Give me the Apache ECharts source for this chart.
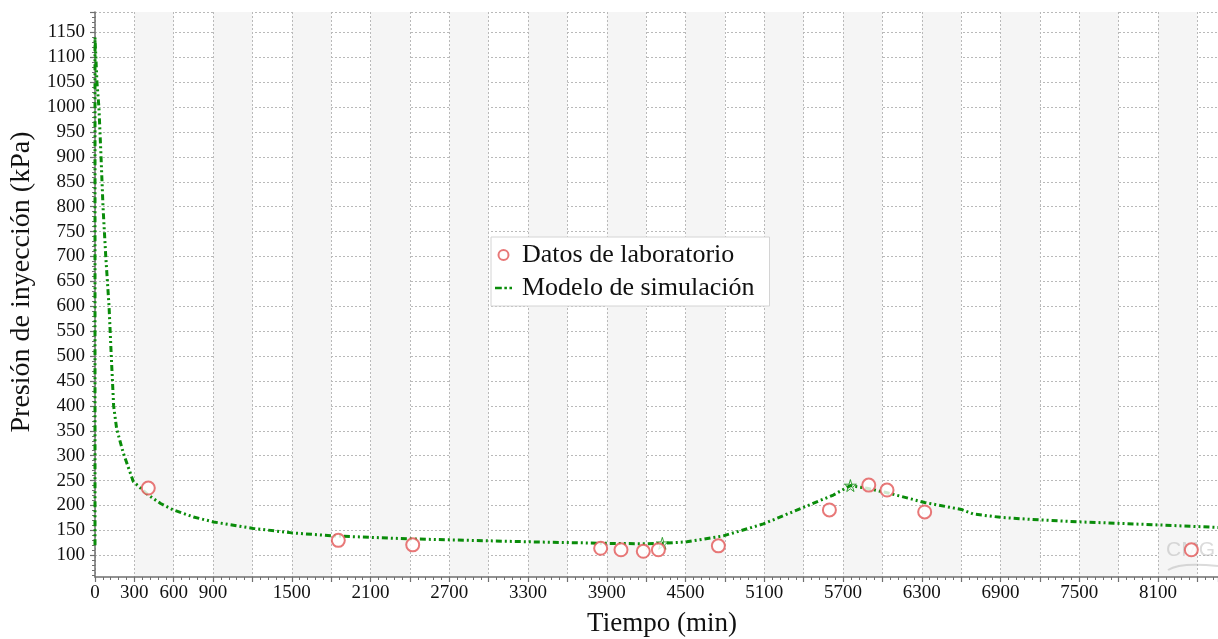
<!DOCTYPE html>
<html>
<head>
<meta charset="utf-8">
<script src="https://cdn.jsdelivr.net/npm/echarts@6/dist/echarts.min.js"></script>
<style>
  html, body { margin: 0; padding: 0; background: #ffffff; }
  #chart { width: 1218px; height: 639px; }
</style>
</head>
<body>
<div id="chart"></div>
<script>
// Laboratory measurements: injection pressure (kPa) against time (min)
const labTime = [406, 1854, 2421, 3853, 4008, 4178, 4293, 4750, 5596, 5896, 6035, 6322, 8354];
const labPressure = [235, 130, 121, 114, 111, 108, 111, 119, 191, 241, 231, 187, 111];

// Simulation model curve
const simTime = [0, 0, 15, 30, 46, 61, 82, 107, 124, 142, 165, 216, 292, 406, 500, 597, 750, 902, 1206, 1499, 1816, 2098, 2398, 2705, 3315, 3899, 4204, 4323, 4509, 4788, 5093, 5397, 5626, 5756, 5891, 6043, 6322, 6602, 6690, 6906, 7198, 7515, 7808, 8100, 8557];
const simPressure = [120, 1140, 1049, 999, 900, 800, 700, 600, 500, 400, 354, 305, 248, 221, 204, 191, 177, 167, 154, 145, 139, 136, 133, 131, 127, 124, 123, 124, 127, 139, 163, 196, 221, 240, 234, 225, 206, 192, 183, 176, 171, 167, 164, 161, 156];

// Highlighted points on the model curve
const markTime = [4323, 5756];
const markPressure = [124, 240];

// Axis tick labels
const xTickLabels = [0, 300, 600, 900, 1500, 2100, 2700, 3300, 3900, 4500, 5100, 5700, 6300, 6900, 7500, 8100];
const yTickLabels = [100, 150, 200, 250, 300, 350, 400, 450, 500, 550, 600, 650, 700, 750, 800, 850, 900, 950, 1000, 1050, 1100, 1150];

const X_MIN = 0, X_MAX = 8557;
const Y_MIN = 56.4, Y_MAX = 1191;

const FONT = 'Liberation Serif';
const GREEN = '#0a8c0a';
const RED = '#e25656';
const AXIS = '#6f6f6f';
const GRID = '#b9b9b9';

// minor tick positions on the pressure axis (every 10 kPa between labelled ticks)
const yMinor = [];
for (let v = 60; v < Y_MAX; v += 10) {
  if (v % 50 !== 0) yMinor.push(v);
}

const zip = (a, b) => a.map((v, i) => [v, b[i]]);
const plain = (v) => String(Math.round(v));

const STAR = 'path://M50,0 L61,35 L98,35 L68,57 L79,91 L50,70 L21,91 L32,57 L2,35 L39,35 Z';
// legend key: a dash followed by two dots
const DASH_DOT_DOT = 'path://M0,0 L8,0 L8,3 L0,3 Z M11,0 L14,0 L14,3 L11,3 Z M17,0 L20,0 L20,3 L17,3 Z';

const chart = echarts.init(document.getElementById('chart'), null, { renderer: 'canvas' });

chart.setOption({
  animation: false,
  backgroundColor: '#ffffff',
  textStyle: { fontFamily: FONT, color: '#111' },
  grid: { left: 95, right: 0, top: 12, bottom: 62, containLabel: false, outerBoundsMode: 'none' },
  legend: {
    data: [
      { name: 'Datos de laboratorio', icon: 'emptyCircle' },
      { name: 'Modelo de simulación', icon: DASH_DOT_DOT, itemStyle: { color: GREEN, borderWidth: 0 } }
    ],
    orient: 'vertical',
    left: 491,
    top: 237,
    padding: [5, 15, 5, 4],
    itemGap: 7,
    itemWidth: 17,
    itemHeight: 10,
    symbolKeepAspect: true,
    backgroundColor: '#ffffff',
    borderColor: '#d4d4d4',
    borderWidth: 1,
    borderRadius: 0,
    textStyle: { fontFamily: FONT, fontSize: 26, color: '#111', padding: [0, 0, 0, 5] }
  },
  xAxis: {
    type: 'value',
    min: X_MIN,
    max: X_MAX,
    interval: 300,
    name: 'Tiempo (min)',
    nameLocation: 'middle',
    nameGap: 33,
    nameTextStyle: { fontFamily: FONT, fontSize: 27, color: '#111', padding: [0, 0, 0, 11] },
    axisLine: { show: true, onZero: false, lineStyle: { color: AXIS, width: 1.5 } },
    axisTick: { show: true, length: 5, lineStyle: { color: AXIS, width: 1.2 } },
    minorTick: { show: true, splitNumber: 5, length: 3, lineStyle: { color: AXIS, width: 1 } },
    axisLabel: {
      customValues: xTickLabels,
      formatter: plain,
      margin: 7,
      fontFamily: FONT,
      fontSize: 19,
      color: '#111'
    },
    splitLine: { show: true, lineStyle: { color: GRID, width: 1, type: [2, 2] } },
    splitArea: { show: true, areaStyle: { color: ['rgba(255,255,255,0)', '#f5f5f5'] } }
  },
  yAxis: [
    {
      type: 'value',
      min: Y_MIN,
      max: Y_MAX,
      name: 'Presión de inyección (kPa)',
      nameLocation: 'middle',
      nameGap: 55,
      nameTextStyle: { fontFamily: FONT, fontSize: 28, color: '#111', padding: [0, 0, 0, 25] },
      axisLine: { show: true, onZero: false, lineStyle: { color: AXIS, width: 1.5 } },
      axisTick: { show: true, length: 5, customValues: yTickLabels.concat([Y_MAX]), lineStyle: { color: AXIS, width: 1.2 } },
      axisLabel: {
        customValues: yTickLabels,
        formatter: plain,
        margin: 10,
        fontFamily: FONT,
        fontSize: 19,
        color: '#111'
      },
      splitLine: { show: true, lineStyle: { color: GRID, width: 1, type: [2, 2] } },
      splitArea: { show: false }
    },
    {
      type: 'value',
      min: Y_MIN,
      max: Y_MAX,
      position: 'left',
      axisLine: { show: false },
      axisTick: { show: true, length: 3, customValues: yMinor, lineStyle: { color: AXIS, width: 1 } },
      axisLabel: { show: false },
      splitLine: { show: false }
    }
  ],
  graphic: [
    {
      type: 'text',
      left: 1166,
      top: 540,
      z: 1,
      silent: true,
      style: {
        text: 'CMG',
        fontFamily: 'Liberation Sans',
        fontSize: 21,
        fill: 'rgba(175,175,175,0.45)'
      }
    },
    {
      type: 'bezierCurve',
      z: 1,
      silent: true,
      shape: { x1: 1168, y1: 570, x2: 1218, y2: 566, cpx1: 1180, cpy1: 562 },
      style: { stroke: 'rgba(175,175,175,0.45)', lineWidth: 2, fill: null }
    }
  ],
  series: [
    {
      name: 'Modelo de simulación',
      type: 'line',
      data: zip(simTime, simPressure),
      symbol: 'none',
      smooth: false,
      clip: true,
      z: 3,
      itemStyle: { color: GREEN },
      lineStyle: { color: GREEN, width: 3, type: [6, 3, 2, 3, 2, 3] }
    },
    {
      name: 'Marcas del modelo',
      type: 'scatter',
      data: zip(markTime, markPressure),
      symbol: STAR,
      symbolSize: 12,
      z: 4,
      itemStyle: { color: 'rgba(255,255,255,0.01)', borderColor: GREEN, borderWidth: 1 }
    },
    {
      name: 'Datos de laboratorio',
      type: 'scatter',
      data: zip(labTime, labPressure),
      symbol: 'emptyCircle',
      symbolSize: 13,
      z: 5,
      itemStyle: { color: RED, borderColor: RED, borderWidth: 1.3 }
    }
  ]
});
</script>
</body>
</html>
